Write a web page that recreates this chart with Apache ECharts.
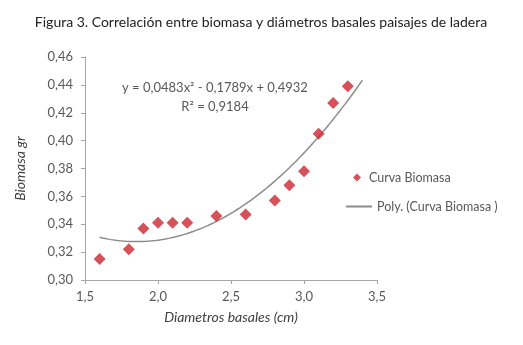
<!DOCTYPE html>
<html>
<head>
<meta charset="utf-8">
<script src="https://cdn.jsdelivr.net/npm/echarts@6/dist/echarts.min.js"></script>
<style>
  html, body { margin: 0; padding: 0; background: #fff; }
  #chart { width: 523px; height: 345px; }
</style>
</head>
<body>
<div id="chart"></div>
<script>
// Basal diameter (cm) and biomass (g) per sample
const diametros = [1.6, 1.8, 1.9, 2.0, 2.1, 2.2, 2.4, 2.6, 2.8, 2.9, 3.0, 3.1, 3.2, 3.3];
const biomasa   = [0.315, 0.322, 0.337, 0.341, 0.341, 0.341, 0.346, 0.347, 0.357, 0.368, 0.378, 0.405, 0.427, 0.439];

// Second-order polynomial trend: a*x^2 + b*x + c
const coefPoly = [0.0483, -0.1789, 0.4932];
const rango = [1.6, 3.4];

const titulo = 'Figura 3. Correlación entre biomasa y diámetros basales paisajes de ladera';
const ecuacion = 'y = 0,0483x² - 0,1789x + 0,4932';
const r2 = 'R² = 0,9184';

const scatterData = diametros.map((x, i) => [x, biomasa[i]]);
const polyData = [];
for (let k = 0; k <= 90; k++) {
  const x = rango[0] + (rango[1] - rango[0]) * k / 90;
  polyData.push([x, coefPoly[0] * x * x + coefPoly[1] * x + coefPoly[2]]);
}

const gray = '#595959';
const fmt = v => v.toFixed(2).replace('.', ',');

const chart = echarts.init(document.getElementById('chart'), null, { renderer: 'canvas' });
chart.setOption({
  animation: false,
  backgroundColor: '#fff',
  title: {
    text: titulo,
    left: 256, textAlign: 'center', top: 10,
    textStyle: { fontFamily: 'Lato', fontSize: 14, fontWeight: 'normal', color: '#222' }
  },
  grid: { left: 85, top: 57, right: 146, bottom: 65 },
  xAxis: {
    type: 'value', min: 1.5, max: 3.5, interval: 0.5,
    name: 'Diametros basales (cm)', nameLocation: 'middle', nameGap: 30,
    nameTextStyle: { fontFamily: 'Lato', fontStyle: 'italic', fontSize: 14, color: '#404040' },
    axisLine: { show: true, lineStyle: { color: '#a6a6a6', width: 1 } },
    axisTick: { show: true, length: 4, lineStyle: { color: '#a6a6a6' } },
    splitLine: { show: false },
    axisLabel: { fontFamily: 'Lato', fontSize: 13, color: gray, margin: 10, formatter: v => v.toFixed(1).replace('.', ',') }
  },
  yAxis: {
    type: 'value', min: 0.30, max: 0.46, interval: 0.02,
    name: 'Biomasa gr', nameLocation: 'middle', nameGap: 58, nameRotate: 90,
    nameTextStyle: { fontFamily: 'Lato', fontStyle: 'italic', fontSize: 14, color: '#404040' },
    axisLine: { show: true, lineStyle: { color: '#a6a6a6', width: 1 } },
    axisTick: { show: true, length: 4, lineStyle: { color: '#a6a6a6' } },
    splitLine: { show: false },
    axisLabel: { fontFamily: 'Lato', fontSize: 13, color: gray, margin: 12, formatter: fmt }
  },
  legend: [
    {
      orient: 'vertical', left: 348, top: 166,
      itemWidth: 8, itemHeight: 8, itemGap: 10,
      data: [{ name: 'Curva Biomasa', icon: 'diamond' }],
      textStyle: { fontFamily: 'Lato', fontSize: 12.5, color: gray, padding: [0, 0, 0, 3] }
    },
    {
      orient: 'vertical', left: 340, top: 195,
      itemWidth: 26, itemHeight: 2,
      data: [{ name: 'Poly. (Curva Biomasa )' }],
      textStyle: { fontFamily: 'Lato', fontSize: 12.5, color: gray }
    }
  ],
  graphic: [
    {
      type: 'text', x: 215, y: 78,
      style: { text: ecuacion + '\n' + r2, align: 'center', fontFamily: 'Lato', fontSize: 13, fill: gray, lineHeight: 19 }
    }
  ],
  series: [
    {
      name: 'Curva Biomasa', type: 'scatter', data: scatterData,
      symbol: 'diamond', symbolSize: 12,
      itemStyle: { color: '#cc2630' }, z: 3
    },
    {
      name: 'Poly. (Curva Biomasa )', type: 'line', data: polyData,
      symbol: 'none', smooth: false,
      lineStyle: { color: '#8c8c8c', width: 1.5 },
      itemStyle: { color: '#8c8c8c' }, z: 2
    }
  ]
});
</script>
</body>
</html>
